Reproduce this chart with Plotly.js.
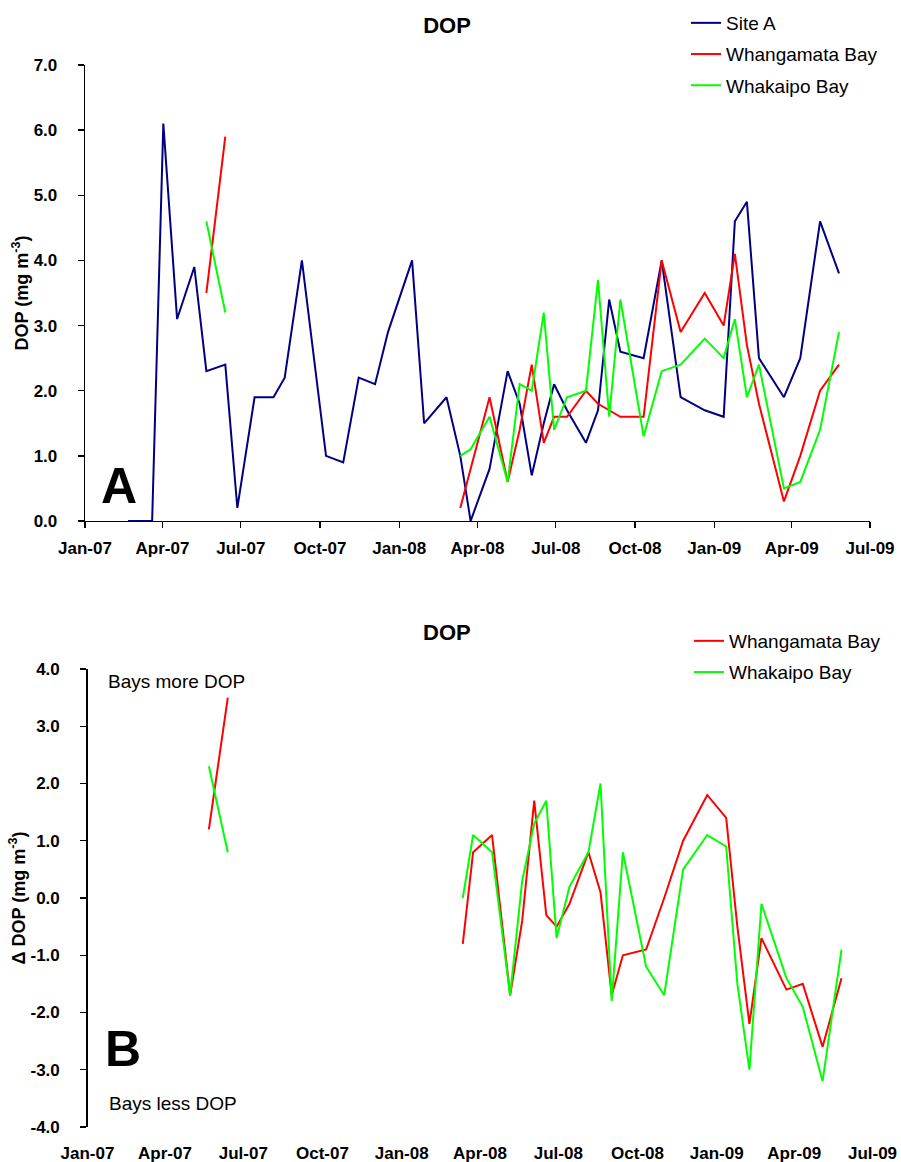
<!DOCTYPE html>
<html>
<head>
<meta charset="utf-8">
<script src="https://cdn.plot.ly/plotly-3.0.1.min.js"></script>
<style>
  html, body { margin: 0; padding: 0; background: #ffffff; }
  #chart { width: 901px; height: 1162px; }
</style>
</head>
<body>
<div id="chart"></div>
<script>
// Sampling dates and DOP concentrations (mg m-3) at the offshore reference site
const siteDates = [
  '2007-02-20', '2007-03-20', '2007-04-02', '2007-04-18', '2007-05-08', '2007-05-22',
  '2007-06-13', '2007-06-27', '2007-07-17', '2007-08-08', '2007-08-21', '2007-09-10',
  '2007-10-08', '2007-10-28', '2007-11-15', '2007-12-04', '2007-12-19', '2008-01-16',
  '2008-01-30', '2008-02-25', '2008-03-12', '2008-03-24', '2008-04-15', '2008-05-06',
  '2008-05-20', '2008-06-03', '2008-06-17', '2008-06-29', '2008-07-14', '2008-08-05',
  '2008-08-19', '2008-09-01', '2008-09-14', '2008-10-11', '2008-11-01', '2008-11-23',
  '2008-12-21', '2009-01-12', '2009-01-25', '2009-02-08', '2009-02-22', '2009-03-23',
  '2009-04-11', '2009-05-04', '2009-05-26'
];
const siteA = [
  0.0, 0.0, 6.1, 3.1, 3.9, 2.3,
  2.4, 0.2, 1.9, 1.9, 2.2, 4.0,
  1.0, 0.9, 2.2, 2.1, 2.9, 4.0,
  1.5, 1.9, 1.0, 0.0, 0.8, 2.3,
  1.8, 0.7, 1.5, 2.1, 1.7, 1.2,
  1.7, 3.4, 2.6, 2.5, 4.0, 1.9,
  1.7, 1.6, 4.6, 4.9, 2.5, 1.9,
  2.5, 4.6, 3.8
];

// Sampling dates shared by the two bays
const bayDates = [
  '2007-05-22', '2007-06-13',
  '2008-03-12', '2008-03-24', '2008-04-15', '2008-05-06', '2008-05-20', '2008-06-03',
  '2008-06-17', '2008-06-29', '2008-07-14', '2008-08-05', '2008-08-19', '2008-09-01',
  '2008-09-14', '2008-10-11', '2008-11-01', '2008-11-23', '2008-12-21', '2009-01-12',
  '2009-01-25', '2009-02-08', '2009-02-22', '2009-03-23', '2009-04-11', '2009-05-04',
  '2009-05-26'
];
const whangamata = [
  3.5, 5.9,
  0.2, 0.8, 1.9, 0.6, 1.4, 2.4,
  1.2, 1.6, 1.6, 2.0, 1.8, 1.7,
  1.6, 1.6, 4.0, 2.9, 3.5, 3.0,
  4.1, 2.7, 1.8, 0.3, 1.0, 2.0,
  2.4
];
const whakaipo = [
  4.6, 3.2,
  1.0, 1.1, 1.6, 0.6, 2.1, 2.0,
  3.2, 1.4, 1.9, 2.0, 3.7, 1.6,
  3.4, 1.3, 2.3, 2.4, 2.8, 2.5,
  3.1, 1.9, 2.4, 0.5, 0.6, 1.4,
  2.9
];

// Bay minus reference site (positive = bays hold more DOP)
const deltaWhangamata = [
  1.2, 3.5,
  -0.8, 0.8, 1.1, -1.7, -0.4, 1.7,
  -0.3, -0.5, -0.1, 0.8, 0.1, -1.7,
  -1.0, -0.9, 0.0, 1.0, 1.8, 1.4,
  -0.5, -2.2, -0.7, -1.6, -1.5, -2.6,
  -1.4
];
const deltaWhakaipo = [
  2.3, 0.8,
  0.0, 1.1, 0.8, -1.7, 0.3, 1.3,
  1.7, -0.7, 0.2, 0.8, 2.0, -1.8,
  0.8, -1.2, -1.7, 0.5, 1.1, 0.9,
  -1.5, -3.0, -0.1, -1.4, -1.9, -3.2,
  -0.9
];

// Quarterly date ticks
const quarterTicks = [
  '2007-01-01', '2007-04-01', '2007-07-01', '2007-10-01', '2008-01-01', '2008-04-01',
  '2008-07-01', '2008-10-01', '2009-01-01', '2009-04-01', '2009-07-01'
];
const quarterLabels = [
  'Jan-07', 'Apr-07', 'Jul-07', 'Oct-07', 'Jan-08', 'Apr-08',
  'Jul-08', 'Oct-08', 'Jan-09', 'Apr-09', 'Jul-09'
];
const dopTicks = [0, 1, 2, 3, 4, 5, 6, 7];
const deltaTicks = [-4, -3, -2, -1, 0, 1, 2, 3, 4];

// ---- geometry helpers -------------------------------------------------
const FONT = 'Liberation Sans, Arial, Helvetica, sans-serif';
const W = 901, H = 1162;
const M = { l: 80, r: 20, t: 10, b: 10, autoexpand: false };
const PW = W - M.l - M.r, PH = H - M.t - M.b;
const fx = px => (px - M.l) / PW;
const fy = py => (H - M.b - py) / PH;

// Break a line where sampling stopped for a long stretch
function withBreaks(dates, vals) {
  const x = [], y = [];
  for (let i = 0; i < dates.length; i++) {
    if (i > 0 && (Date.parse(dates[i]) - Date.parse(dates[i - 1])) / 864e5 > 90) {
      x.push(dates[i - 1]); y.push(null);
    }
    x.push(dates[i]); y.push(vals[i]);
  }
  return { x, y };
}

const NAVY = '#000080', RED = '#ff0000', GREEN = '#00ff00';
const LW = 2;

const wTop = withBreaks(bayDates, whangamata);
const kTop = withBreaks(bayDates, whakaipo);
const wDel = withBreaks(bayDates, deltaWhangamata);
const kDel = withBreaks(bayDates, deltaWhakaipo);

const traces = [
  { x: siteDates, y: siteA, name: 'Site A', type: 'scatter', mode: 'lines',
    line: { color: NAVY, width: LW }, xaxis: 'x', yaxis: 'y', legend: 'legend', legendgroup: 'a' },
  { x: wTop.x, y: wTop.y, name: 'Whangamata Bay', type: 'scatter', mode: 'lines', connectgaps: false,
    line: { color: RED, width: LW }, xaxis: 'x', yaxis: 'y', legend: 'legend', legendgroup: 'b' },
  { x: kTop.x, y: kTop.y, name: 'Whakaipo Bay', type: 'scatter', mode: 'lines', connectgaps: false,
    line: { color: GREEN, width: LW }, xaxis: 'x', yaxis: 'y', legend: 'legend', legendgroup: 'c' },
  { x: wDel.x, y: wDel.y, name: 'Whangamata Bay', type: 'scatter', mode: 'lines', connectgaps: false,
    line: { color: RED, width: LW }, xaxis: 'x2', yaxis: 'y2', legend: 'legend2', legendgroup: 'd' },
  { x: kDel.x, y: kDel.y, name: 'Whakaipo Bay', type: 'scatter', mode: 'lines', connectgaps: false,
    line: { color: GREEN, width: LW }, xaxis: 'x2', yaxis: 'y2', legend: 'legend2', legendgroup: 'e' }
];

const tickFont = { family: FONT, size: 17, color: '#000000', weight: 'bold' };
const titleFont = { family: FONT, size: 18, color: '#000000' };
const xRange = ['2007-01-01', '2009-07-01'];

const topX = [fx(85), fx(870)], topY = [fy(521), fy(65)];
const botX = [fx(87.5), fx(872.5)], botY = [fy(1127), fy(669)];

const layout = {
  width: W, height: H,
  margin: M,
  paper_bgcolor: '#ffffff', plot_bgcolor: '#ffffff',
  font: { family: FONT, color: '#000000' },
  showlegend: true,
  title: {
    text: '<b>DOP</b>', font: { family: FONT, size: 22, color: '#000000' },
    xref: 'container', yref: 'container', x: 447 / W, y: 1 - 25 / H,
    xanchor: 'center', yanchor: 'middle'
  },
  xaxis: {
    domain: topX, anchor: 'y', type: 'date', range: xRange,
    tickmode: 'array', tickvals: quarterTicks, ticktext: quarterLabels,
    showgrid: false, zeroline: false, showline: true, linecolor: '#000000', linewidth: 1.3,
    ticks: 'outside', ticklen: 6, tickwidth: 1.3, tickcolor: '#000000',
    tickfont: tickFont, ticklabelstandoff: 5, automargin: false
  },
  yaxis: {
    domain: topY, anchor: 'x', range: [0, 7],
    tickmode: 'array', tickvals: dopTicks, ticktext: dopTicks.map(v => v.toFixed(1)),
    showgrid: false, zeroline: false, showline: true, linecolor: '#000000', linewidth: 1.3,
    ticks: 'outside', ticklen: 6, tickwidth: 1.3, tickcolor: '#000000',
    tickfont: tickFont, ticklabelstandoff: 17, automargin: false,
    title: { text: '<b>DOP (mg m<sup>-3</sup>)</b>', font: titleFont, standoff: 0 }
  },
  xaxis2: {
    domain: botX, anchor: 'y2', type: 'date', range: xRange,
    tickmode: 'array', tickvals: quarterTicks, ticktext: quarterLabels,
    showgrid: false, zeroline: false, showline: false, ticks: '',
    tickfont: tickFont, ticklabelstandoff: 14, automargin: false
  },
  // zero line of the difference panel, carrying the quarter ticks
  xaxis3: {
    domain: botX, overlaying: 'x2', anchor: 'free', position: (botY[0] + botY[1]) / 2,
    type: 'date', range: xRange, matches: 'x2',
    tickmode: 'array', tickvals: quarterTicks,
    showticklabels: false, showgrid: false, zeroline: false,
    showline: true, linecolor: '#000000', linewidth: 1.3,
    ticks: 'outside', ticklen: 6, tickwidth: 1.3, tickcolor: '#000000', automargin: false
  },
  yaxis2: {
    domain: botY, anchor: 'x2', range: [-4, 4],
    tickmode: 'array', tickvals: deltaTicks, ticktext: deltaTicks.map(v => v.toFixed(1)),
    showgrid: false, zeroline: false, showline: true, linecolor: '#000000', linewidth: 1.3,
    ticks: 'outside', ticklen: 6, tickwidth: 1.3, tickcolor: '#000000',
    tickfont: tickFont, ticklabelstandoff: 17, automargin: false,
    title: { text: '<b>\u0394 DOP (mg m<sup>-3</sup>)</b>', font: titleFont, standoff: 0 }
  },
  legend: {
    xref: 'container', yref: 'container',
    x: 686 / W, y: 1 - 4 / H, xanchor: 'left', yanchor: 'top',
    font: { family: FONT, size: 19, color: '#000000' },
    bgcolor: 'rgba(0,0,0,0)', borderwidth: 0, tracegroupgap: 3.5, itemwidth: 30,
    traceorder: 'grouped'
  },
  legend2: {
    xref: 'container', yref: 'container',
    x: 689 / W, y: 1 - 622 / H, xanchor: 'left', yanchor: 'top',
    font: { family: FONT, size: 19, color: '#000000' },
    bgcolor: 'rgba(0,0,0,0)', borderwidth: 0, tracegroupgap: 3.5, itemwidth: 30,
    traceorder: 'grouped'
  },
  annotations: [
    { text: '<b>DOP</b>', xref: 'paper', yref: 'paper', x: fx(447), y: fy(632),
      xanchor: 'center', yanchor: 'middle', showarrow: false,
      font: { family: FONT, size: 22, color: '#000000' } },
    { text: '<b>A</b>', xref: 'paper', yref: 'paper', x: fx(119), y: fy(486),
      xanchor: 'center', yanchor: 'middle', showarrow: false,
      font: { family: FONT, size: 50, color: '#000000' } },
    { text: '<b>B</b>', xref: 'paper', yref: 'paper', x: fx(123), y: fy(1049),
      xanchor: 'center', yanchor: 'middle', showarrow: false,
      font: { family: FONT, size: 50, color: '#000000' } },
    { text: 'Bays more DOP', xref: 'paper', yref: 'paper', x: fx(106), y: fy(681),
      xanchor: 'left', yanchor: 'middle', showarrow: false,
      font: { family: FONT, size: 19, color: '#000000' } },
    { text: 'Bays less DOP', xref: 'paper', yref: 'paper', x: fx(107), y: fy(1103),
      xanchor: 'left', yanchor: 'middle', showarrow: false,
      font: { family: FONT, size: 19, color: '#000000' } }
  ]
};

Plotly.newPlot('chart', traces, layout, { displayModeBar: false, staticPlot: true });
</script>
</body>
</html>
